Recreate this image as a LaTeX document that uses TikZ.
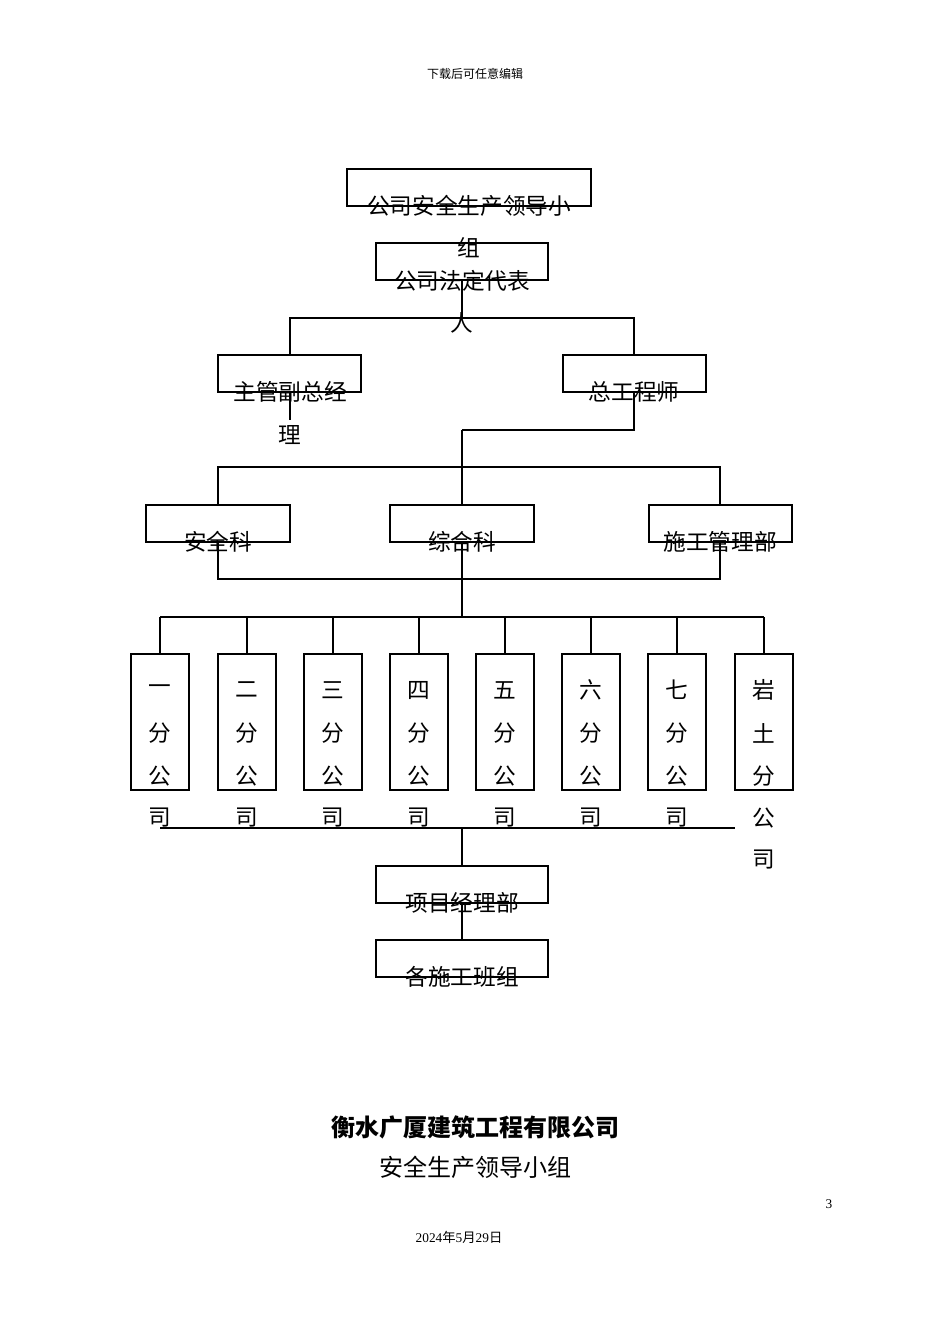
\documentclass[tikz,border=0pt]{standalone}
\usepackage{fontspec}
\setmainfont{Liberation Serif}
\newfontfamily\cjk{Noto Sans CJK SC}
\begin{document}
\begin{tikzpicture}[x=0.75pt,y=-0.75pt,
  bx/.style={draw,thick,line width=0.8pt},
  t/.style={font=\cjk\fontsize{17}{17}\selectfont,inner sep=0pt,anchor=center},
  ln/.style={line width=0.8pt}]
\useasboundingbox (0,0) rectangle (950,1344);
\fill[white] (0,0) rectangle (950,1344);
\node[font=\cjk\fontsize{9}{9}\selectfont] (hdr) at (475,74) {下载后可任意编辑};
% boxes
\draw[ln] (347,169) rectangle (591,206); \node[t] (a) at (469,206) {公司安全生产领导小}; \node[t] (a2) at (469,248) {组};
\coordinate (b) at (462,261);
\draw[ln] (376,243) rectangle (548,280); \node[t] (bt) at (462,281) {公司法定代表}; \node[t] (bt2) at (462,323) {人};
\coordinate (c1) at (290,355); \coordinate (c2) at (634,355);
\draw[ln] (218,355) rectangle (361,392); \node[t] at (290,392) {主管副总经}; \node[t] at (290,435) {理};
\draw[ln] (563,355) rectangle (706,392); \node[t] at (634,392) {总工程师};
\draw[ln] (462,280)--(462,318) (290,355)--(290,318)--(634,318)--(634,355);
\draw[ln] (290,392)--(290,420) (634,392)--(634,430)--(462,430) (462,430)--(462,467);
\draw[ln] (218,505)--(218,467)--(720,467)--(720,505) (462,467)--(462,505);
\draw[ln] (146,505) rectangle (290,542); \node[t] at (218,542) {安全科};
\draw[ln] (390,505) rectangle (534,542); \node[t] at (462,542) {综合科};
\draw[ln] (649,505) rectangle (792,542); \node[t] at (720,542) {施工管理部};
\draw[ln] (218,542)--(218,579)--(720,579)--(720,542) (462,542)--(462,617);
\draw[ln] (160,617)--(764,617);
\foreach \x/\a/\b in {160/一/分,247/二/分,333/三/分,419/四/分,505/五/分,591/六/分,677/七/分}{
  \draw[ln] (\x-29,654) rectangle (\x+29,790);
  \draw[ln] (\x,617)--(\x,654);
  \node[t] at (\x,690) {\a}; \node[t] at (\x,733) {\b}; \node[t] at (\x,776) {公}; \node[t] at (\x,818) {司};
}
\draw[ln] (735,654) rectangle (793,790); \draw[ln] (764,617)--(764,654);
\node[t] at (764,690) {岩}; \node[t] at (764,733) {土}; \node[t] at (764,776) {分}; \node[t] at (764,818) {公}; \node[t] at (764,860) {司};
\draw[ln] (160,828)--(735,828) (462,828)--(462,866);
\draw[ln] (376,866) rectangle (548,903); \node[t] at (462,903) {项目经理部};
\draw[ln] (462,903)--(462,940);
\draw[ln] (376,940) rectangle (548,977); \node[t] at (462,977) {各施工班组};
\node[font=\cjk\bfseries\fontsize{18}{18}\selectfont] (ti) at (475,1127) {衡水广厦建筑工程有限公司};
\node[font=\cjk\fontsize{18}{18}\selectfont] (ti2) at (475,1167) {安全生产领导小组};
\node[font=\fontsize{10}{10}\selectfont] at (829,1204) {3};
\node[font=\fontsize{10}{10}\selectfont] at (459,1237) {2024{\cjk 年}5{\cjk 月}29{\cjk 日}};
\end{tikzpicture}
\end{document}
